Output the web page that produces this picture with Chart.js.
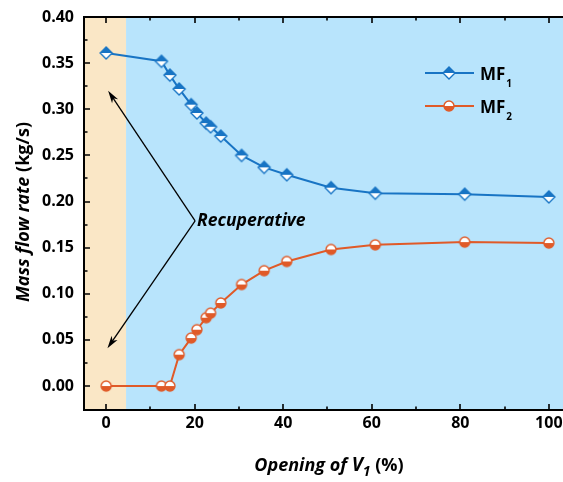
<!DOCTYPE html>
<html lang="en">
<head>
    <meta charset="UTF-8">
    <title>Mass flow rate</title>
    <script src="https://cdn.jsdelivr.net/npm/chart.js@4.4.0/dist/chart.umd.min.js"></script>
    <style>
        body {
            margin: 0;
            background: #ffffff;
        }
    </style>
</head>
<body>
<canvas id="myChart" width="563" height="482"></canvas>

<script>
    // opening of V1 (%)
    var opening = [0, 12.5, 14.4, 16.5, 19.2, 20.5, 22.6, 23.6, 25.9, 30.6, 35.7, 40.8, 50.8, 60.8, 81, 100];
    var mf1 = [0.361, 0.352, 0.337, 0.322, 0.305, 0.296, 0.285, 0.281, 0.271, 0.250, 0.237, 0.229, 0.215, 0.209, 0.208, 0.205];
    var mf2 = [0, 0, 0, 0.034, 0.052, 0.061, 0.074, 0.079, 0.090, 0.110, 0.125, 0.135, 0.148, 0.153, 0.156, 0.155];

    var xTicks = [0, 20, 40, 60, 80, 100];
    var xMinor = [10, 30, 50, 70, 90];
    var yTicks = [0, 0.05, 0.10, 0.15, 0.20, 0.25, 0.30, 0.35, 0.40];
    var yMinor = [0.025, 0.075, 0.125, 0.175, 0.225, 0.275, 0.325, 0.375];

    // recuperative zone
    var zoneEnd = 4.5;

    var blue = "#1874c4";
    var orange = "#e05a28";
    var font = "'Open Sans', sans-serif";

    function makeDiamond(color) {
        var c = document.createElement("canvas");
        c.width = 16; c.height = 16;
        var g = c.getContext("2d");
        g.lineWidth = 1.4;
        g.beginPath();
        g.moveTo(8, 8); g.lineTo(2, 8); g.lineTo(8, 14); g.lineTo(14, 8); g.closePath();
        g.fillStyle = "#ffffff"; g.fill();
        g.beginPath();
        g.moveTo(2, 8); g.lineTo(8, 2); g.lineTo(14, 8); g.closePath();
        g.fillStyle = color; g.fill();
        g.beginPath();
        g.moveTo(8, 2); g.lineTo(14, 8); g.lineTo(8, 14); g.lineTo(2, 8); g.closePath();
        g.strokeStyle = color; g.stroke();
        return c;
    }

    function makeCircle(color) {
        var c = document.createElement("canvas");
        c.width = 14; c.height = 14;
        var g = c.getContext("2d");
        g.beginPath(); g.arc(7, 7, 5, Math.PI, 0); g.fillStyle = "#ffffff"; g.fill();
        g.beginPath(); g.arc(7, 7, 5, 0, Math.PI); g.fillStyle = color; g.fill();
        g.beginPath(); g.arc(7, 7, 5, 0, Math.PI * 2);
        g.lineWidth = 1.4; g.strokeStyle = color; g.stroke();
        return c;
    }

    var diamond = makeDiamond(blue);
    var circle = makeCircle(orange);

    var extras = {
        id: "extras",
        beforeDatasetsDraw: function(chart) {
            var ctx = chart.ctx, a = chart.chartArea, x = chart.scales.x;
            var xe = x.getPixelForValue(zoneEnd);
            ctx.save();
            ctx.fillStyle = "#fae7c6";
            ctx.fillRect(a.left, a.top, xe - a.left, a.bottom - a.top);
            ctx.fillStyle = "#b8e4fc";
            ctx.fillRect(xe, a.top, a.right - xe, a.bottom - a.top);
            ctx.restore();
        },
        afterDatasetsDraw: function(chart) {
            var ctx = chart.ctx, a = chart.chartArea;
            var x = chart.scales.x, y = chart.scales.y;
            ctx.save();
            ctx.strokeStyle = "#000000";
            ctx.lineWidth = 2;
            ctx.beginPath();
            ctx.moveTo(a.right + 2, a.top); ctx.lineTo(a.left, a.top);
            ctx.lineTo(a.left, a.bottom); ctx.lineTo(a.right + 2, a.bottom);
            ctx.stroke();

            ctx.lineWidth = 1.6;
            ctx.beginPath();
            xTicks.forEach(function(v) {
                var px = Math.round(x.getPixelForValue(v));
                ctx.moveTo(px, a.bottom); ctx.lineTo(px, a.bottom - 6);
                ctx.moveTo(px, a.top); ctx.lineTo(px, a.top + 6);
            });
            xMinor.forEach(function(v) {
                var px = Math.round(x.getPixelForValue(v));
                ctx.moveTo(px, a.bottom); ctx.lineTo(px, a.bottom - 3.5);
                ctx.moveTo(px, a.top); ctx.lineTo(px, a.top + 3.5);
            });
            yTicks.forEach(function(v) {
                var py = Math.round(y.getPixelForValue(v));
                ctx.moveTo(a.left, py); ctx.lineTo(a.left + 6, py);
            });
            yMinor.forEach(function(v) {
                var py = Math.round(y.getPixelForValue(v));
                ctx.moveTo(a.left, py); ctx.lineTo(a.left + 3.5, py);
            });
            ctx.stroke();

            // arrows to the recuperative zone
            var vx = x.getPixelForValue(20.1), vy = y.getPixelForValue(0.179);
            var tips = [[0.45, 0.320], [0.3, 0.041]];
            ctx.lineWidth = 1.3;
            ctx.fillStyle = "#000000";
            tips.forEach(function(t) {
                var tx = x.getPixelForValue(t[0]), ty = y.getPixelForValue(t[1]);
                var ang = Math.atan2(ty - vy, tx - vx);
                ctx.beginPath();
                ctx.moveTo(vx, vy);
                ctx.lineTo(tx - 8 * Math.cos(ang), ty - 8 * Math.sin(ang));
                ctx.stroke();
                ctx.beginPath();
                ctx.moveTo(tx, ty);
                ctx.lineTo(tx - 13 * Math.cos(ang - 0.28), ty - 13 * Math.sin(ang - 0.28));
                ctx.lineTo(tx - 9 * Math.cos(ang), ty - 9 * Math.sin(ang));
                ctx.lineTo(tx - 13 * Math.cos(ang + 0.28), ty - 13 * Math.sin(ang + 0.28));
                ctx.closePath();
                ctx.fill();
            });
            ctx.font = "italic bold 17.5px " + font;
            ctx.textBaseline = "middle";
            ctx.textAlign = "left";
            ctx.fillText("Recuperative", vx + 2, vy);

            // legend
            var items = [["MF", "1", blue, diamond, 73], ["MF", "2", orange, circle, 106]];
            items.forEach(function(it) {
                ctx.strokeStyle = it[2];
                ctx.lineWidth = 2;
                ctx.beginPath();
                ctx.moveTo(425, it[4]); ctx.lineTo(474, it[4]);
                ctx.stroke();
                ctx.drawImage(it[3], 449 - it[3].width / 2, it[4] - it[3].height / 2);
                ctx.fillStyle = "#000000";
                ctx.textBaseline = "alphabetic";
                ctx.font = "bold 17px " + font;
                ctx.fillText(it[0], 480, it[4] + 7);
                var w = ctx.measureText(it[0]).width;
                ctx.font = "bold 10px " + font;
                ctx.fillText(it[1], 481 + w, it[4] + 14);
            });

            // axis titles
            ctx.fillStyle = "#000000";
            ctx.textBaseline = "alphabetic";
            var parts = [["italic bold 18px ", "Opening of ", 0], ["italic bold 19px ", "V", 0],
                         ["italic bold 14px ", "1", 5], ["bold 18px ", " (%)", 0]];
            var total = 0;
            parts.forEach(function(p) { ctx.font = p[0] + font; total += ctx.measureText(p[1]).width; });
            var cx = 329 - total / 2;
            parts.forEach(function(p) {
                ctx.font = p[0] + font;
                ctx.fillText(p[1], cx, 471 + p[2]);
                cx += ctx.measureText(p[1]).width;
            });

            ctx.translate(29, 212);
            ctx.rotate(-Math.PI / 2);
            var yparts = [["italic bold 18px ", "Mass flow rate "], ["bold 18px ", "(kg/s)"]];
            total = 0;
            yparts.forEach(function(p) { ctx.font = p[0] + font; total += ctx.measureText(p[1]).width; });
            cx = -total / 2;
            yparts.forEach(function(p) {
                ctx.font = p[0] + font;
                ctx.fillText(p[1], cx, 0);
                cx += ctx.measureText(p[1]).width;
            });
            ctx.restore();
        }
    };

    function toPoints(xs, ys) {
        return xs.map(function(v, i) { return {x: v, y: ys[i]}; });
    }

    var ctx = document.getElementById("myChart").getContext("2d");
    var myChart = new Chart(ctx, {
        type: "line",
        data: {
            datasets: [{
                label: "MF1",
                data: toPoints(opening, mf1),
                borderColor: blue,
                borderWidth: 2,
                pointStyle: diamond,
                tension: 0
            }, {
                label: "MF2",
                data: toPoints(opening, mf2),
                borderColor: orange,
                borderWidth: 2,
                pointStyle: circle,
                tension: 0
            }]
        },
        options: {
            responsive: false,
            animation: false,
            layout: {autoPadding: false, padding: {top: 17, right: 0, left: 0, bottom: 0}},
            plugins: {legend: {display: false}, tooltip: {enabled: false}},
            scales: {
                x: {
                    type: "linear",
                    min: -5,
                    max: 103.2,
                    grid: {display: false, drawTicks: false},
                    border: {display: false},
                    afterBuildTicks: function(s) { s.ticks = xTicks.map(function(v) { return {value: v}; }); },
                    afterFit: function(s) { s.height = 72; s.paddingLeft = 0; s.paddingRight = 0; },
                    ticks: {
                        padding: 4,
                        color: "#000000",
                        font: {family: font, size: 16, weight: "bold"}
                    }
                },
                y: {
                    min: -0.026,
                    max: 0.40,
                    grid: {display: false, drawTicks: false},
                    border: {display: false},
                    afterBuildTicks: function(s) { s.ticks = yTicks.map(function(v) { return {value: v}; }); },
                    afterFit: function(s) { s.width = 84; s.paddingTop = 0; s.paddingBottom = 0; },
                    ticks: {
                        padding: 10,
                        color: "#000000",
                        font: {family: font, size: 16, weight: "bold"},
                        callback: function(v) { return v.toFixed(2); }
                    }
                }
            }
        },
        plugins: [extras]
    });
</script>
</body>
</html>
